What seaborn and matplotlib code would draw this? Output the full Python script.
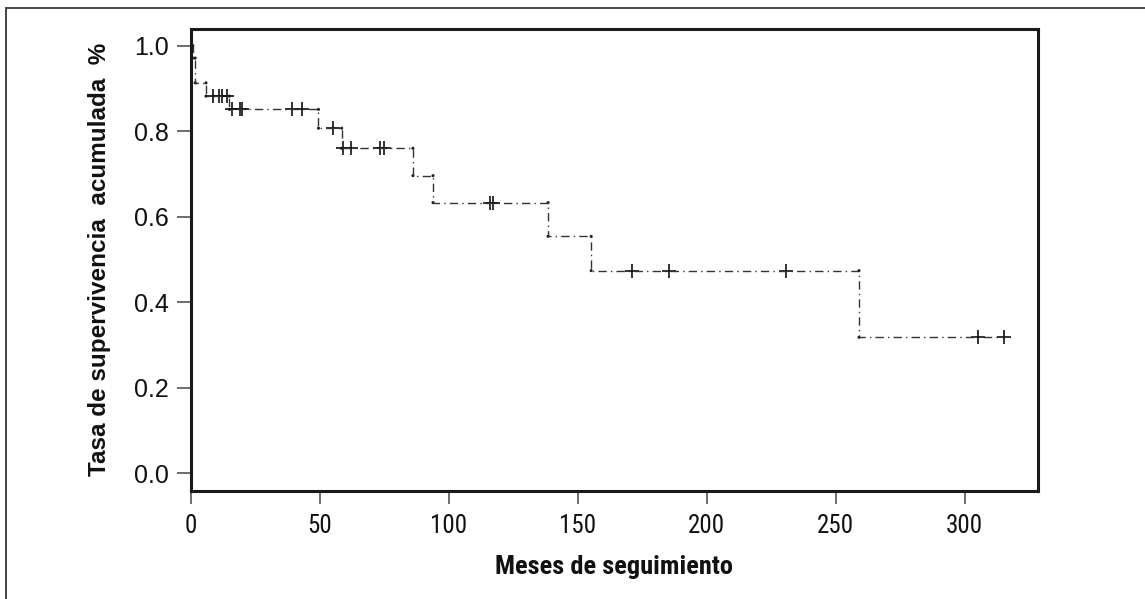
import numpy as np
import pandas as pd
import matplotlib
matplotlib.use("Agg")
import matplotlib.pyplot as plt
from matplotlib import font_manager
from matplotlib.font_manager import FontProperties
from matplotlib.lines import Line2D
import seaborn as sns

# ---- data ----
event_times = [0.0, 0.8, 1.7, 5.9, 15.0, 49.5, 58.5, 86.1, 93.9, 138.5, 155.2, 259.0, 315.2]
survival    = [1.0, 0.971, 0.913, 0.882, 0.851, 0.807, 0.760, 0.696, 0.633, 0.554, 0.474, 0.318, 0.318]
censor_times = [8.6, 11.1, 12.2, 14.0, 15.9, 19.1, 19.9, 39.1, 43.0, 55.0, 59.1, 62.0,
                73.4, 75.0, 116.0, 117.2, 171.0, 185.4, 230.7, 305.0, 315.2]
x_ticks = [0, 50, 100, 150, 200, 250, 300]
y_ticks = [0.0, 0.2, 0.4, 0.6, 0.8, 1.0]
x_label = "Meses de seguimiento"
y_label = "Tasa de supervivencia  acumulada  %"

sns.set_theme(style="white")

ttf = font_manager.fontManager.ttflist
names = {f.name for f in ttf}
regular = "Liberation Sans" if "Liberation Sans" in names else "DejaVu Sans"
plt.rcParams["font.family"] = [regular, "DejaVu Sans"]


def find_condensed(bold):
    want_w = 700 if bold else 400
    for fam in ["Liberation Sans Narrow", "Arial Narrow", "Roboto Condensed",
                "Open Sans Condensed", "Noto Sans Condensed", "DejaVu Sans Condensed"]:
        cands = [f for f in ttf if f.name == fam and f.style == "normal"]
        if cands:
            cands.sort(key=lambda f: abs((f.weight if isinstance(f.weight, int) else 400) - want_w))
            return cands[0].fname
    for fam in ["Liberation Sans", "Roboto", "Noto Sans", "Open Sans", "DejaVu Sans"]:
        cands = [f for f in ttf if f.name == fam and f.style == "normal"
                 and str(f.stretch) in ("condensed", "semi-condensed", "extra-condensed")]
        if cands:
            cands.sort(key=lambda f: abs((f.weight if isinstance(f.weight, int) else 400) - want_w))
            return cands[0].fname
    return None

cond_reg = find_condensed(False)
cond_bold = find_condensed(True)
if cond_reg:
    xtick_fp = FontProperties(fname=cond_reg, size=18)
else:
    xtick_fp = FontProperties(family=[regular], size=16)
if cond_bold:
    xlab_fp = FontProperties(fname=cond_bold, size=19, weight="bold")
else:
    xlab_fp = FontProperties(family=[regular], size=17, weight="bold")

fig = plt.figure(figsize=(11.45, 5.99), dpi=100)
ax = fig.add_axes([0.1666, 0.1808, 0.9066 - 0.1666, 0.9516 - 0.1808])

curve = pd.DataFrame({"t": event_times, "s": survival})
sns.lineplot(data=curve, x="t", y="s", ax=ax, estimator=None, drawstyle="steps-post",
             color="#333333", linewidth=1.0, linestyle=(0, (6, 3, 1, 3)), legend=False)

# small dots at the corners of each event step
prev = survival[:-2]
nxt = survival[1:-1]
corners = pd.DataFrame({
    "t": list(event_times[1:-1]) * 2,
    "s": list(prev) + list(nxt),
})
sns.scatterplot(data=corners, x="t", y="s", ax=ax, s=5, color="#222222",
                edgecolor="none", legend=False)

# censor marks at the survival level in force at each censor time
idx = np.searchsorted(np.array(event_times), np.array(censor_times), side="right") - 1
cens = pd.DataFrame({"t": censor_times, "s": np.array(survival)[idx]})
sns.scatterplot(data=cens, x="t", y="s", ax=ax, marker="+", s=95, color="#111111",
                linewidth=1.2, legend=False)

ax.set_xlim(0, 328.4)
ax.set_ylim(-0.0407, 1.039)
ax.set_xticks(x_ticks)
ax.set_yticks(y_ticks)
ax.set_xticklabels([str(v) for v in x_ticks], fontproperties=xtick_fp)
ax.set_yticklabels([f"{v:.1f}" for v in y_ticks], fontsize=18)
ax.tick_params(axis="both", which="major", direction="out", length=9, width=1.2,
               color="#555555", labelcolor="#111111", bottom=True, left=True)
ax.tick_params(axis="x", pad=8)
ax.tick_params(axis="y", length=10, pad=6)

for sp in ax.spines.values():
    sp.set_visible(True)
    sp.set_color("#1a1a1a")
    sp.set_linewidth(2.2)

ax.set_xlabel(x_label, fontproperties=xlab_fp, color="#111111", labelpad=12)
ax.set_ylabel(y_label, fontweight="bold", fontsize=17.5, color="#111111", labelpad=16)

# partial outer frame (top and left edges)
fig.add_artist(Line2D([6 / 1145, 6 / 1145], [0, 1 - 8 / 599], transform=fig.transFigure,
                      color="#444444", linewidth=1.4))
fig.add_artist(Line2D([6 / 1145, 1], [1 - 8 / 599, 1 - 8 / 599], transform=fig.transFigure,
                      color="#444444", linewidth=1.4))

fig.savefig("out.png", dpi=100, facecolor="white")
